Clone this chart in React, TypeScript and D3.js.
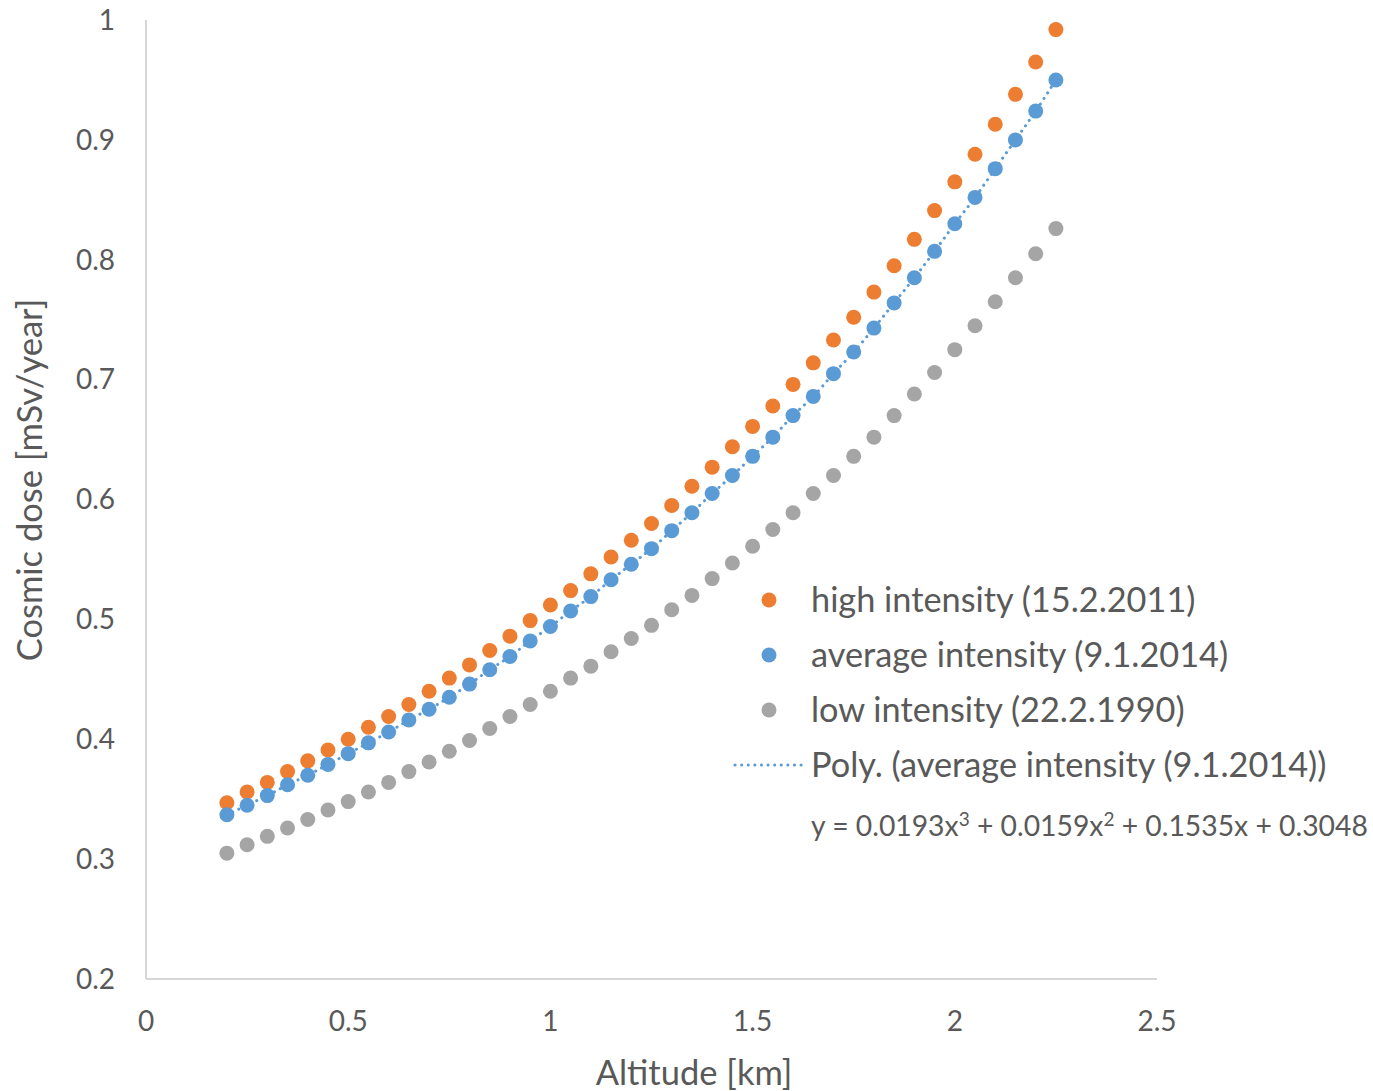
import React from 'react'
import * as d3 from 'd3'

const width = 1373
const height = 1091

// altitude in km, 0.2 .. 2.25
const altitudes = [
  0.2, 0.25, 0.3, 0.35, 0.4, 0.45, 0.5, 0.55, 0.6, 0.65, 0.7, 0.75, 0.8, 0.85,
  0.9, 0.95, 1.0, 1.05, 1.1, 1.15, 1.2, 1.25, 1.3, 1.35, 1.4, 1.45, 1.5, 1.55,
  1.6, 1.65, 1.7, 1.75, 1.8, 1.85, 1.9, 1.95, 2.0, 2.05, 2.1, 2.15, 2.2, 2.25,
]

const highIntensity = [
  0.347, 0.356, 0.364, 0.373, 0.382, 0.391, 0.4, 0.41, 0.419, 0.429, 0.44, 0.451,
  0.462, 0.474, 0.486, 0.499, 0.512, 0.524, 0.538, 0.552, 0.566, 0.58, 0.595,
  0.611, 0.627, 0.644, 0.661, 0.678, 0.696, 0.714, 0.733, 0.752, 0.773, 0.795,
  0.817, 0.841, 0.865, 0.888, 0.913, 0.938, 0.965, 0.992,
]

const averageIntensity = [
  0.337, 0.345, 0.353, 0.362, 0.37, 0.379, 0.388, 0.397, 0.406, 0.416, 0.425,
  0.435, 0.446, 0.458, 0.469, 0.482, 0.494, 0.507, 0.519, 0.533, 0.546, 0.559,
  0.574, 0.589, 0.605, 0.62, 0.636, 0.652, 0.67, 0.686, 0.705, 0.723, 0.743,
  0.764, 0.785, 0.807, 0.83, 0.852, 0.876, 0.9, 0.924, 0.95,
]

const lowIntensity = [
  0.305, 0.312, 0.319, 0.326, 0.333, 0.341, 0.348, 0.356, 0.364, 0.373, 0.381,
  0.39, 0.399, 0.409, 0.419, 0.429, 0.44, 0.451, 0.461, 0.473, 0.484, 0.495,
  0.508, 0.52, 0.534, 0.547, 0.561, 0.575, 0.589, 0.605, 0.62, 0.636, 0.652,
  0.67, 0.688, 0.706, 0.725, 0.745, 0.765, 0.785, 0.805, 0.826,
]

const xTicks = [0, 0.5, 1, 1.5, 2, 2.5]
const yTicks = [0.2, 0.3, 0.4, 0.5, 0.6, 0.7, 0.8, 0.9, 1]

const seriesNames = [
  'high intensity (15.2.2011)',
  'average intensity (9.1.2014)',
  'low intensity (22.2.1990)',
]
const trendName = 'Poly. (average intensity (9.1.2014))'
const colors = ['#ED7D31', '#5B9BD5', '#A5A5A5']

const font = 'Lato, "Open Sans", sans-serif'
const textColor = '#595959'

export default function App() {
  const x = d3.scaleLinear().domain([0, 2.5]).range([146, 1157])
  const y = d3.scaleLinear().domain([0.2, 1]).range([979, 20])

  const series = [highIntensity, averageIntensity, lowIntensity]

  const trend = d3
    .line<number>()
    .x((_, i) => x(altitudes[i]))
    .y(d => y(d))
    .curve(d3.curveCatmullRom)(averageIntensity)

  return (
    <svg width={width} height={height} style={{ position: 'absolute', left: 0, top: 0 }}>
      <rect width={width} height={height} fill="#fff" />
      {/* axes */}
      <line x1={x(0)} x2={x(0)} y1={y(1)} y2={y(0.2)} stroke="#c9c9c9" strokeWidth={1.5} />
      <line x1={x(0)} x2={x(2.5)} y1={y(0.2)} y2={y(0.2)} stroke="#c9c9c9" strokeWidth={1.5} />

      {yTicks.map(t => (
        <text key={t} x={115} y={y(t)} dy="0.35em" textAnchor="end" fontFamily={font} fontSize={28} fill={textColor}>
          {d3.format('~g')(t)}
        </text>
      ))}
      {xTicks.map(t => (
        <text key={t} x={x(t)} y={1021} dy="0.35em" textAnchor="middle" fontFamily={font} fontSize={28} fill={textColor}>
          {d3.format('~g')(t)}
        </text>
      ))}

      <text x={694} y={1073} dy="0.35em" textAnchor="middle" fontFamily={font} fontSize={34.5} fill={textColor}>
        Altitude [km]
      </text>
      <text
        transform={`translate(30,480) rotate(-90)`}
        dy="0.35em"
        textAnchor="middle"
        fontFamily={font}
        fontSize={34.5}
        fill={textColor}
      >
        Cosmic dose [mSv/year]
      </text>

      {/* points */}
      {series.map((s, si) => (
        <g key={si}>
          {s.map((v, i) => (
            <circle key={i} cx={x(altitudes[i])} cy={y(v)} r={7.5} fill={colors[si]} />
          ))}
        </g>
      ))}

      {/* trendline */}
      <path
        d={trend ?? ''}
        fill="none"
        stroke={colors[1]}
        strokeWidth={3}
        strokeDasharray="0.1 6.5"
        strokeLinecap="round"
      />

      {/* legend */}
      {seriesNames.map((n, i) => (
        <g key={n} transform={`translate(0,${600 + i * 55})`}>
          <circle cx={769} cy={0} r={7.5} fill={colors[i]} />
          <text x={811} y={0} dy="0.35em" fontFamily={font} fontSize={34.3} fill={textColor}>
            {n}
          </text>
        </g>
      ))}
      <g transform="translate(0,765)">
        <line x1={735} x2={803} y1={0} y2={0} stroke={colors[1]} strokeWidth={3} strokeDasharray="0.1 6.5" strokeLinecap="round" />
        <text x={811} y={0} dy="0.35em" fontFamily={font} fontSize={34.3} fill={textColor}>
          {trendName}
        </text>
      </g>
      <text x={811} y={826} dy="0.35em" fontFamily={font} fontSize={28.3} fill={textColor}>
        y = 0.0193x<tspan dy={-10} fontSize={19}>3</tspan>
        <tspan dy={10}> + 0.0159x</tspan>
        <tspan dy={-10} fontSize={19}>2</tspan>
        <tspan dy={10}> + 0.1535x + 0.3048</tspan>
      </text>
    </svg>
  )
}
